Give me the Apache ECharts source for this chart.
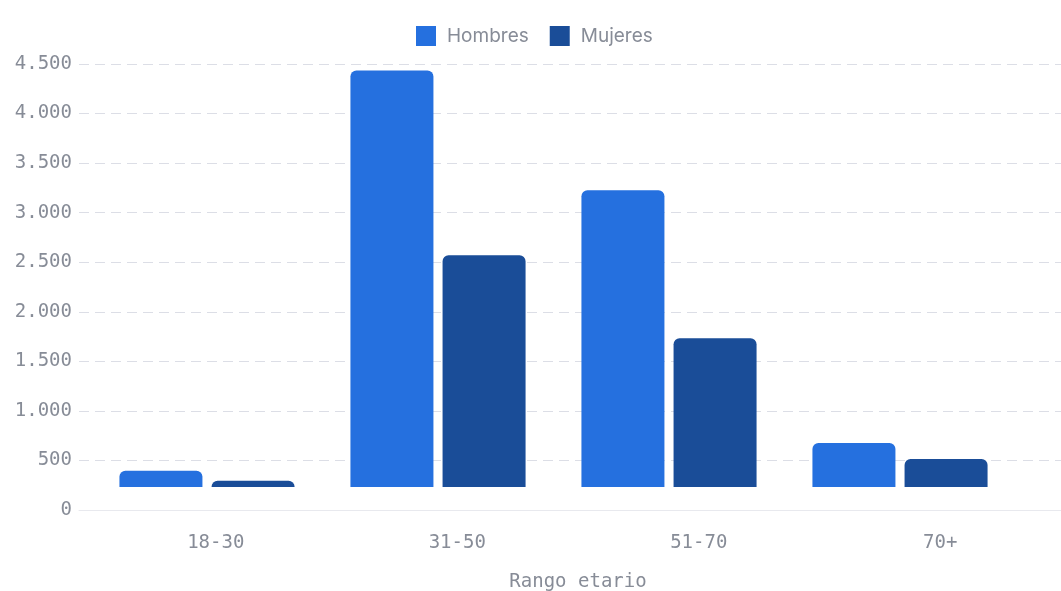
<!DOCTYPE html>
<html>
<head>
<meta charset="utf-8">
<script src="https://cdn.jsdelivr.net/npm/echarts@6/dist/echarts.min.js"></script>
<style>
  html, body { margin: 0; padding: 0; background: #fff; }
  #chart { width: 1061px; height: 591px; }
</style>
</head>
<body>
<div id="chart"></div>
<script>
// datos
const categories = ['18-30', '31-50', '51-70', '70+'];
const hombres = [396, 4435, 3226, 675];
const mujeres = [295, 2570, 1734, 514];
const yTicks = [0, 500, 1000, 1500, 2000, 2500, 3000, 3500, 4000, 4500];
// las barras arrancan por encima del cero en el original
const BAR_BASE = 232;

const monoFont = '"DejaVu Sans Mono", monospace';
const labelColor = '#878c97';
const lineColor = '#dcdee6';

const fmt = v => String(v).replace(/\B(?=(\d{3})+(?!\d))/g, '.');

let myChart = echarts.init(document.getElementById('chart'));

let option = {
    animation: false,
    legend: {
        data: ['Hombres', 'Mujeres'],
        top: 21,
        left: 411,
        icon: 'rect',
        itemWidth: 20,
        itemHeight: 20,
        itemGap: 21,
        textStyle: {
            fontFamily: 'Inter, "Noto Sans", sans-serif',
            fontSize: 19,
            color: labelColor,
            padding: [0, 0, 0, 6]
        }
    },
    grid: [
        // ejes y líneas de fondo
        { left: 79, right: 0, top: 64, bottom: 81, outerBoundsMode: 'none' },
        // etiquetas del eje x
        { left: 95, right: 0, top: 64, bottom: 81, outerBoundsMode: 'none' },
        // barras
        { left: 91.5, right: 45.5, top: 64, bottom: 81, outerBoundsMode: 'none' }
    ],
    xAxis: [
        {
            gridIndex: 0,
            type: 'category',
            data: categories,
            axisLine: { show: true, lineStyle: { color: '#e8e9ee', width: 1 } },
            axisTick: { show: false },
            axisLabel: { show: false },
            splitLine: { show: false }
        },
        {
            gridIndex: 1,
            type: 'category',
            data: categories,
            name: 'Rango etario',
            nameLocation: 'middle',
            nameGap: 63,
            nameTextStyle: { fontFamily: monoFont, fontSize: 19, color: labelColor },
            axisLine: { show: false },
            axisTick: { show: false },
            axisLabel: { fontFamily: monoFont, fontSize: 19, color: labelColor, margin: 24 }
        },
        {
            gridIndex: 2,
            type: 'category',
            data: categories,
            show: false
        }
    ],
    yAxis: [
        {
            gridIndex: 0,
            type: 'value',
            min: yTicks[0],
            max: yTicks[yTicks.length - 1],
            interval: yTicks[1] - yTicks[0],
            axisLine: { show: false },
            axisTick: { show: false },
            axisLabel: {
                fontFamily: monoFont,
                fontSize: 19,
                color: labelColor,
                margin: 7,
                formatter: fmt
            },
            splitLine: {
                show: true,
                lineStyle: { color: lineColor, type: [10, 6], width: 1 }
            }
        },
        {
            gridIndex: 1,
            type: 'value',
            show: false,
            min: 0,
            max: 4500,
            splitLine: { show: false }
        },
        {
            gridIndex: 2,
            type: 'value',
            show: false,
            min: -BAR_BASE,
            max: 4500 - BAR_BASE,
            splitLine: { show: false }
        }
    ],
    series: [
        {
            name: 'Hombres',
            type: 'bar',
            xAxisIndex: 2,
            yAxisIndex: 2,
            data: hombres.map(v => v - BAR_BASE),
            barWidth: 83,
            barGap: '11%',
            itemStyle: { color: '#2570df', borderRadius: [6, 6, 0, 0] }
        },
        {
            name: 'Mujeres',
            type: 'bar',
            xAxisIndex: 2,
            yAxisIndex: 2,
            data: mujeres.map(v => v - BAR_BASE),
            barWidth: 83,
            barGap: '11%',
            itemStyle: { color: '#1a4d98', borderRadius: [6, 6, 0, 0] }
        }
    ]
};

myChart.setOption(option);
</script>
</body>
</html>
